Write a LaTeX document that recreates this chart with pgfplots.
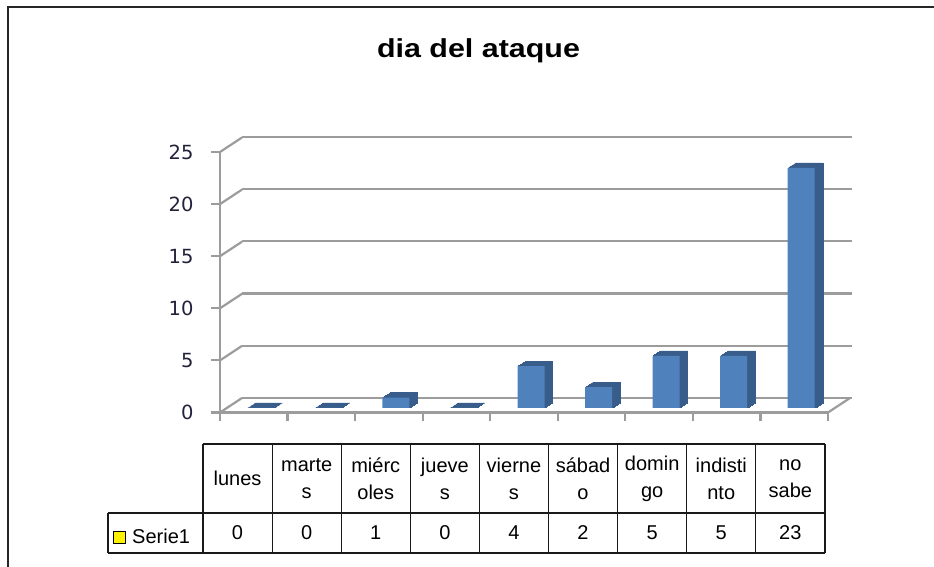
\documentclass[border=0pt]{standalone}
\usepackage{pgfplots}
\pgfplotsset{compat=1.18}
\usepackage{pgfplotstable}
\usepackage{fontspec}
\setmainfont{Liberation Sans}
\newfontfamily\verd{DejaVu Sans}

\definecolor{gridgray}{HTML}{9C9C9C}
\definecolor{barfront}{HTML}{4F81BD}
\definecolor{barside}{HTML}{385D8A}
\definecolor{tickcol}{HTML}{22223A}

% x = category centre, y = count
\pgfplotstableread{
x   y
0.5 0
1.5 0
2.5 1
3.5 0
4.5 4
5.5 2
6.5 5
7.5 5
8.5 23
}\dias

\begin{document}
\begin{tikzpicture}[x=1pt,y=1pt]
\path[use as bounding box] (0,0) rectangle (934,567);
\draw[line width=1.4pt,black!85] (8,-5) -- (8,560) -- (940,560);

\node[anchor=base,font=\bfseries\fontsize{26}{30}\selectfont] at (478.5,509.7)
  {\scalebox{1.17}[1]{dia del ataque}};

% back wall
\begin{axis}[at={(242pt,169pt)},anchor=south west,scale only axis,
  width=610pt,height=261pt,
  xmin=0,xmax=9,ymin=0,ymax=25,
  xtick=\empty,ytick={0,5,10,15,20,25},yticklabels={},
  ymajorgrids,grid style={gridgray,line width=2.2pt},
  axis line style={draw=none},major tick length=0pt]
\end{axis}

% front axes + side wall
\begin{axis}[at={(220pt,154.5pt)},anchor=south west,scale only axis,
  width=608pt,height=260.5pt,
  xmin=0,xmax=9,ymin=0,ymax=25,
  axis x line=bottom,axis y line=left,
  axis line style={-,gridgray,line width=2.2pt},
  xtick={0,...,9},xticklabels={},
  ytick={0,5,10,15,20,25},
  tick style={gridgray,line width=2.2pt},
  major tick length=9pt,tick align=outside,
  yticklabel style={font=\verd\fontsize{19.5}{21}\selectfont,text=tickcol,xshift=-14pt},
  /pgf/number format/assume math mode=true,
  clip=false]
\pgfplotsinvokeforeach{0,5,10,15,20,25}{
  \draw[gridgray,line width=2.2pt] (axis cs:0,#1) -- ++(22pt,14.5pt);
}
\draw[gridgray,line width=2.2pt] (axis cs:9,0) -- ++(22pt,14.5pt);
\end{axis}

% bars
\begin{axis}[at={(227pt,159pt)},anchor=south west,scale only axis,
  width=608pt,height=261pt,
  xmin=0,xmax=9,ymin=0,ymax=25,
  hide axis,clip=false]
\pgfplotsinvokeforeach{8,7,6,5,4,3,2,1}{
  \addplot[ybar,bar shift=0pt,bar width=27pt,fill=barside,draw=barside,
    line width=0.4pt,xshift=#1pt,yshift={0.625pt*#1}] table {\dias};
}
\addplot[ybar,bar shift=0pt,bar width=27pt,fill=barfront,draw=none] table {\dias};
\end{axis}

% data table
\begin{scope}[black!90,line width=1.2pt]
\draw (203,123) -- (825,123);
\draw (108,54) -- (825,54);
\draw (108,14) -- (825,14);
\draw (108,14) -- (108,54);
\foreach \k in {0,...,9} \draw ({203+69.1*\k},14) -- ({203+69.1*\k},123);
\end{scope}
\foreach \h/\v [count=\i from 0] in {{lunes}/0,{marte\\s}/0,{miérc\\oles}/1,{jueve\\s}/0,{vierne\\s}/4,{sábad\\o}/2,{domin\\go}/5,{indisti\\nto}/5,{no\\sabe}/23}{
  \node[align=center,font=\fontsize{20}{27}\selectfont] at ({237.55+69.1*\i},88.5) {\h};
  \node[font=\fontsize{20}{24}\selectfont] at ({237.55+69.1*\i},34) {\v};
}
\draw[fill=yellow,line width=0.8pt] (113,24) rectangle (125,36);
\node[anchor=west,font=\fontsize{20}{24}\selectfont,inner sep=0pt] at (132,31) {Serie1};
\end{tikzpicture}
\end{document}
